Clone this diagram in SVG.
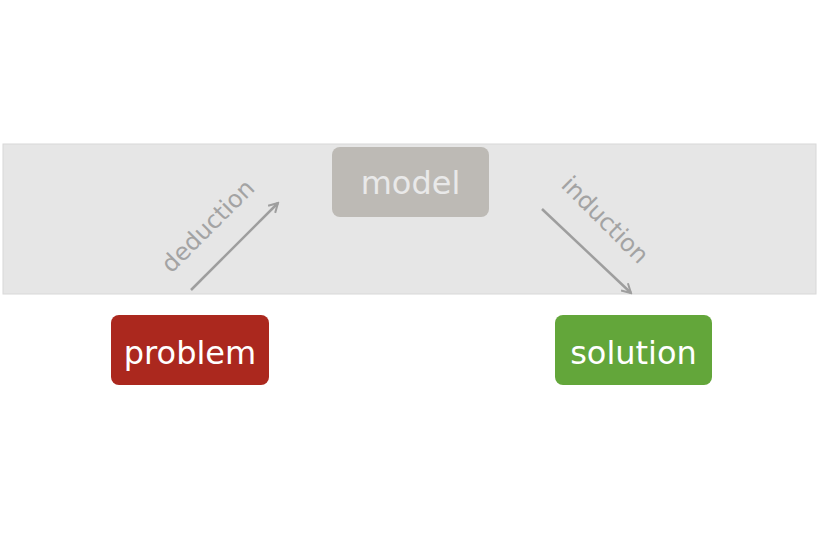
<svg xmlns="http://www.w3.org/2000/svg" width="820" height="560" viewBox="0 0 820 560">
<style>
.node text{font-family:"DejaVu Sans",sans-serif;font-size:32px;text-anchor:middle}
.lbl{font-family:"DejaVu Sans",sans-serif;font-size:24px;fill:#a3a3a3;text-anchor:middle}
.edge{stroke:#9e9e9e;stroke-width:2.5;fill:none}
</style>
<defs>
<marker id="arr" viewBox="0 0 12 12" refX="10" refY="6" markerWidth="12" markerHeight="12" markerUnits="userSpaceOnUse" orient="auto">
<path d="M1,1 L10,6 L1,11" fill="none" stroke="#9e9e9e" stroke-width="2"/>
</marker>
</defs>
<rect x="3" y="144" width="813" height="150" fill="#e6e6e6" stroke="#d8d8d8" stroke-width="1"/>
<g id="connectors">
<line class="edge" x1="191" y1="290" x2="278" y2="203" marker-end="url(#arr)"/>
<line class="edge" x1="542" y1="209" x2="631" y2="293" marker-end="url(#arr)"/>
<text class="lbl" transform="translate(208,226) rotate(-45)" x="0" y="8">deduction</text>
<text class="lbl" transform="translate(605,220) rotate(45)" x="0" y="8">induction</text>
</g>
<g id="model" class="node">
<rect x="332" y="147" width="157" height="70" rx="8" fill="#bdbab5"/>
<text x="410.5" y="194" fill="#e9e9e9">model</text>
</g>
<g id="problem" class="node">
<rect x="111" y="315" width="158" height="70" rx="8" fill="#ab281e"/>
<text x="190" y="364" fill="#ffffff">problem</text>
</g>
<g id="solution" class="node">
<rect x="555" y="315" width="157" height="70" rx="8" fill="#63a63a"/>
<text x="633.5" y="364" fill="#ffffff">solution</text>
</g>
</svg>
